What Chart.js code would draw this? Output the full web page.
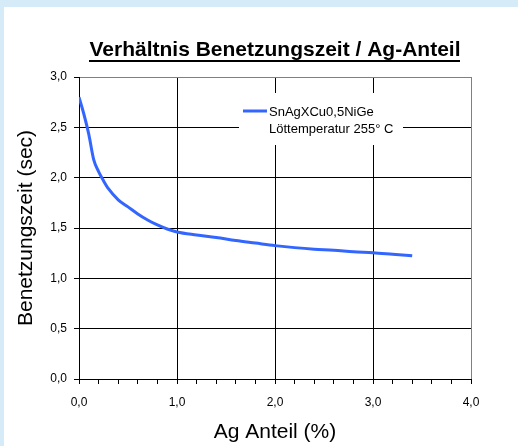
<!DOCTYPE html>
<html>
<head>
<meta charset="utf-8">
<script src="https://cdn.jsdelivr.net/npm/chart.js@4"></script>
<style>
  html, body { margin: 0; padding: 0; background: #d6ebf8; width: 518px; height: 446px; overflow: hidden; }
  #wrap { position: absolute; left: 4px; top: 7px; width: 514px; height: 439px; background: #ffffff; }
  canvas { display: block; }
</style>
</head>
<body>
<div id="wrap"><canvas id="c" width="514" height="439"></canvas></div>
<script>
// ---- data ----
const agAnteil = [0, 0.05, 0.1, 0.15, 0.2, 0.25, 0.3, 0.4, 0.5, 0.6, 0.7, 0.8, 0.9, 1.0, 1.2, 1.4, 1.6, 1.8, 2.0, 2.2, 2.4, 2.6, 2.8, 3.0, 3.2, 3.4];
const benetzungszeit = [2.80, 2.63, 2.43, 2.18, 2.06, 1.97, 1.89, 1.78, 1.71, 1.64, 1.58, 1.53, 1.49, 1.46, 1.43, 1.405, 1.375, 1.35, 1.325, 1.305, 1.29, 1.28, 1.265, 1.255, 1.24, 1.225];
const seriesName = 'SnAgXCu0,5NiGe';
const seriesNote = 'Löttemperatur 255° C';
const chartTitle = 'Verhältnis Benetzungszeit / Ag-Anteil';
const xTitle = 'Ag Anteil (%)';
const yTitle = 'Benetzungszeit (sec)';
const xTicks = [0, 1, 2, 3, 4];
const yTicks = [0, 0.5, 1, 1.5, 2, 2.5, 3];

const FONT = 'Arial, "Liberation Sans", Helvetica, sans-serif';
const fmt = v => v.toFixed(1).replace('.', ',');
const isInt = v => Math.abs(v - Math.round(v)) < 1e-9;

const points = agAnteil.map((x, i) => ({ x: x, y: benetzungszeit[i] }));

const underlineTitle = {
  id: 'underlineTitle',
  afterDraw(chart) {
    const tb = chart.titleBlock;
    if (!tb) return;
    const ctx = chart.ctx;
    ctx.save();
    ctx.font = 'bold 21px ' + FONT;
    const w = ctx.measureText(chartTitle).width;
    const cx = tb.left + tb.width / 2;
    const cy = tb.top + tb.options.padding.top + 12.6;
    ctx.fillStyle = '#000';
    ctx.fillRect(Math.round(cx - w / 2), Math.round(cy + 9), Math.round(w), 2);
    ctx.restore();
  }
};

const boxLegend = {
  id: 'boxLegend',
  beforeDatasetsDraw(chart) {
    const a = chart.chartArea;
    const ctx = chart.ctx;
    const bx = a.left + 160, by = a.top + 16;
    ctx.save();
    ctx.fillStyle = '#ffffff';
    ctx.fillRect(bx, by, 164, 52);
    ctx.strokeStyle = '#3366ff';
    ctx.lineWidth = 3;
    ctx.beginPath();
    ctx.moveTo(bx + 4, by + 18);
    ctx.lineTo(bx + 28, by + 18);
    ctx.stroke();
    ctx.fillStyle = '#000';
    ctx.font = '13px ' + FONT;
    ctx.textBaseline = 'middle';
    ctx.textAlign = 'left';
    ctx.fillText(seriesName, bx + 30, by + 19);
    ctx.fillText(seriesNote, bx + 30, by + 36);
    ctx.restore();
  }
};

new Chart(document.getElementById('c'), {
  type: 'scatter',
  data: {
    datasets: [{
      label: seriesName,
      data: points,
      showLine: true,
      borderColor: '#3366ff',
      backgroundColor: '#3366ff',
      borderWidth: 3,
      pointRadius: 0,
      cubicInterpolationMode: 'monotone',
      fill: false
    }]
  },
  options: {
    responsive: false,
    animation: false,
    devicePixelRatio: 1,
    layout: { padding: { top: 0, right: 47, bottom: 0, left: 0 } },
    plugins: {
      legend: { display: false },
      tooltip: { enabled: false },
      title: {
        display: true,
        fullSize: false,
        text: chartTitle,
        color: '#000',
        font: { family: FONT, size: 21, weight: 'bold', lineHeight: 1.2 },
        padding: { top: 31, bottom: 13.8 }
      }
    },
    scales: {
      x: {
        type: 'linear',
        min: 0, max: 4,
        afterFit(s) { s.height = 67; },
        afterBuildTicks(s) {
          const t = [];
          for (let i = 0; i <= 20; i++) t.push({ value: Math.round(i * 2) / 10 });
          s.ticks = t;
        },
        ticks: {
          autoSkip: false,
          maxRotation: 0,
          padding: 11,
          color: '#000',
          font: { family: FONT, size: 12 },
          callback: v => (xTicks.some(t => Math.abs(t - v) < 1e-9) ? fmt(v) : '')
        },
        grid: {
          drawOnChartArea: true,
          tickLength: 5,
          lineWidth: 1,
          color: ctx => {
            const v = ctx.tick ? ctx.tick.value : 0;
            if (Math.abs(v - 4) < 1e-9) return '#808080';
            if (isInt(v) && v > 0) return '#000000';
            return 'rgba(0,0,0,0)';
          },
          tickColor: '#000000'
        },
        border: { display: true, color: '#000000', width: 1 },
        title: {
          display: true,
          text: xTitle,
          color: '#000',
          font: { family: FONT, size: 21, lineHeight: 1.2 },
          padding: { top: 0, bottom: 1.5 }
        }
      },
      y: {
        type: 'linear',
        min: 0, max: 3,
        afterFit(s) { s.width = 75; },
        afterBuildTicks(s) { s.ticks = yTicks.map(v => ({ value: v })); },
        ticks: {
          autoSkip: false,
          padding: 7,
          color: '#000',
          font: { family: FONT, size: 12 },
          callback: v => fmt(v)
        },
        grid: {
          tickLength: 5,
          lineWidth: 1,
          color: ctx => {
            const v = ctx.tick ? ctx.tick.value : 0;
            return Math.abs(v - 3) < 1e-9 ? '#808080' : '#000000';
          },
          tickColor: '#000000'
        },
        border: { display: true, color: '#000000', width: 1 },
        title: {
          display: true,
          text: yTitle,
          color: '#000',
          font: { family: FONT, size: 21, lineHeight: 1.2 },
          padding: { top: 10, bottom: 0 }
        }
      }
    }
  },
  plugins: [boxLegend, underlineTitle]
});
</script>
</body>
</html>
